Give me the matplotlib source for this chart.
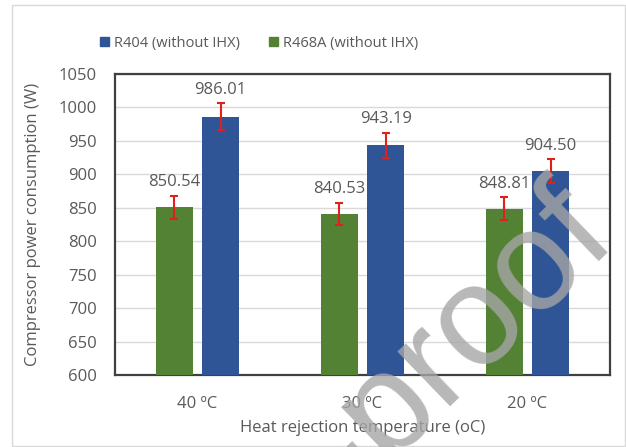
import matplotlib
matplotlib.use("Agg")
import matplotlib.pyplot as plt
import numpy as np
from matplotlib.patches import Rectangle

# Data
categories = ["40 ºC", "30 ºC", "20 ºC"]
r468a = [850.54, 840.53, 848.81]
r404 = [986.01, 943.19, 904.50]
r468a_err = [17, 17, 17]
r404_err = [20, 19, 18]

green = "#548235"
blue = "#2f5597"
err_col = "#e0201b"
txt = "#595959"

plt.rcParams["font.family"] = ["Open Sans", "DejaVu Sans"]

fig = plt.figure(figsize=(6.26, 4.47), dpi=100)
ax = fig.add_axes([115 / 626, 1 - 375 / 447, 495 / 626, 301 / 447])

x = np.arange(len(categories))
w = 0.22
off = 0.14
ax.bar(x - off, r468a, w, color=green, zorder=3)
ax.bar(x + off, r404, w, color=blue, zorder=3)
ax.errorbar(x - off, r468a, yerr=r468a_err, fmt="none", ecolor=err_col,
            elinewidth=1.5, capsize=3, capthick=1.5, zorder=4)
ax.errorbar(x + off, r404, yerr=r404_err, fmt="none", ecolor=err_col,
            elinewidth=1.5, capsize=3, capthick=1.5, zorder=4)

for xs, vals, errs in ((x - off, r468a, r468a_err), (x + off, r404, r404_err)):
    for xi, v, e in zip(xs, vals, errs):
        ax.annotate(f"{v:.2f}", (xi, v + e), xytext=(0, 4), textcoords="offset points",
                    ha="center", va="bottom", fontsize=12, color=txt, zorder=5)

ax.set_xlim(-0.5, 2.5)
ax.set_ylim(600, 1050)
ax.set_yticks(np.arange(600, 1051, 50))
ax.set_xticks(x)
ax.set_xticklabels(categories)
ax.tick_params(axis="both", length=0, labelsize=12, colors=txt)
ax.tick_params(axis="y", pad=13)
ax.tick_params(axis="x", pad=15)
ax.grid(axis="y", color="#d9d9d9", linewidth=1, zorder=0)
ax.set_axisbelow(True)
for s in ax.spines.values():
    s.set_color("#404040")
    s.set_linewidth(1.6)

ax.set_ylabel("Compressor power consumption (W)", fontsize=12, color=txt, va="center")
ax.set_xlabel("Heat rejection temperature (oC)", fontsize=12, color=txt, va="center")
ax.yaxis.set_label_coords(-(115 - 33) / 495, 0.5)
ax.xaxis.set_label_coords(0.5, -(428 - 375) / 301)

# Legend
handles = [Rectangle((0, 0), 1, 1, color=blue), Rectangle((0, 0), 1, 1, color=green)]
fig.legend(handles, ["R404 (without IHX)", "R468A (without IHX)"],
           loc="center", bbox_to_anchor=(259 / 626, 1 - 43 / 447), ncol=2,
           frameon=False, fontsize=10.5, labelcolor=txt, handlelength=0.65,
           handleheight=0.65, handletextpad=0.3, columnspacing=2.0)

# Chart area border
fig.patches.append(Rectangle((12 / 626, 0.003), 1 - 12 / 626 - 0.002, 1 - 5 / 447 - 0.003,
                             transform=fig.transFigure, fill=False,
                             edgecolor="#d9d9d9", linewidth=1))

# Watermark
fig.text(620 / 626, 1 - 243 / 447, "Journal Pre-proof", rotation=44,
         rotation_mode="anchor", ha="right", va="baseline",
         family="Liberation Sans", fontsize=102, color="#a6a6a6", alpha=0.8,
         zorder=10)

fig.savefig("out.png", dpi=100)
